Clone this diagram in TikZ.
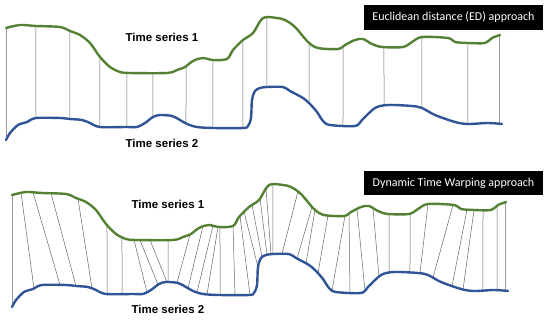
\documentclass[tikz,border=0pt]{standalone}
\usepackage{fontspec}
\newfontfamily\labelfont{Liberation Sans}
\newfontfamily\boxfont{Carlito}
\usetikzlibrary{intersections}

\definecolor{tsgreen}{RGB}{84,130,53}
\definecolor{tsblue}{RGB}{47,85,151}

% the two series, in pixel units of the upper panel
\newcommand{\seriesone}{plot[smooth, tension=.5] coordinates {(6,28) (20,25) (36,26) (60,27) (70,31) (80,35) (90,43) (100,57) (110,67) (120,72) (130,73) (167,73) (177,70) (185,67) (190,63) (195,60) (203,58) (213,60) (227,59) (233,50) (243,40) (253,33) (263,18) (277,18) (285,20) (295,27) (308,42) (318,48) (338,49) (345,45) (355,40) (363,39) (372,44) (382,47) (403,47) (412,42) (422,37) (448,38) (455,42) (468,43) (485,43) (492,38) (500,35)}}
\newcommand{\seriestwo}{plot[smooth, tension=.5] coordinates {(6,140) (10,133) (18,125) (27,122) (36,118) (60,118) (70,119) (82,120) (90,123) (100,127) (127,127) (137,127) (145,123) (153,117) (160,115) (172,116) (180,120) (187,124) (197,127) (213,128) (243,128) (248,126) (251,118) (252,100) (255,91) (260,88) (267,87) (283,87) (290,91) (303,98) (310,104) (317,112) (323,121) (330,125) (355,126) (362,120) (375,108) (388,105) (412,106) (422,108) (435,115) (455,122) (468,124) (488,123) (502,124)}}

\begin{document}
\begin{tikzpicture}[x=1pt, y=-1pt]
	\tikzstyle {greenseries} = [draw=tsgreen, line width=2.4pt, line cap=round, line join=round];
	\tikzstyle {blueseries} = [draw=tsblue, line width=2.4pt, line cap=round, line join=round];
	\tikzstyle {link} = [draw=black!60, line width=.5pt];
	\tikzstyle {seriesname} = [font=\labelfont\bfseries\fontsize{11.5}{13}\selectfont];
	\tikzstyle {approach} = [fill=black, text=white, minimum width=179pt, minimum height=25pt, inner sep=0pt, font=\boxfont\fontsize{12}{14}\selectfont];
	\useasboundingbox (0,0) rectangle (550,321);

	% Euclidean distance
	\begin{scope}
		\path[name path=ts1] \seriesone;
		\path[name path=ts2] \seriestwo;
		\foreach \upx/\downx in {6.3/6.3, 36/36, 70/70, 100/100, 127/127, 153/153, 186/186, 213/213, 243/243, 267/267, 309/309, 343/343, 384/384, 422/422, 468/468, 499.5/499.5} {
				\path[name path=upcut] (\upx,0) -- (\upx,160);
				\path[name path=downcut] (\downx,0) -- (\downx,160);
				\path[name intersections={of=ts1 and upcut, by=up}];
				\path[name intersections={of=ts2 and downcut, by=down}];
				\draw[link] (up) -- (down);
			}
		\draw[greenseries] \seriesone;
		\draw[blueseries] \seriestwo;
		\node[seriesname] (ed1) at (162,37) {Time series 1};
		\node[seriesname] (ed2) at (162,143) {Time series 2};
	\end{scope}
	\node[approach] (edbox) at (453.5,17.5) {Euclidean distance (ED) approach};

	% dynamic time warping
	\begin{scope}[shift={(6,167)}]
		\path[name path=ts1] \seriesone;
		\path[name path=ts2] \seriestwo;
		\foreach \upx/\downx in {6.3/6.3, 15/28, 27/54, 45/70, 72/86, 101/101, 116/116, 128/141, 134/152, 144/161, 162/162, 184/171, 197/182, 207/191, 212/201, 214/214, 227/229, 234/244, 238/252, 246/256, 254/261, 260/265, 267/267, 292/276, 306/291, 309/300, 322/312, 339/326, 343/344, 351/359, 367/373, 383/383, 404/404, 422/414, 447/427, 461/446, 468/457, 477/477, 491/491, 499.5/499.5} {
				\path[name path=upcut] (\upx,0) -- (\upx,160);
				\path[name path=downcut] (\downx,0) -- (\downx,160);
				\path[name intersections={of=ts1 and upcut, by=up}];
				\path[name intersections={of=ts2 and downcut, by=down}];
				\draw[link] (up) -- (down);
			}
		\draw[greenseries] \seriesone;
		\draw[blueseries] \seriestwo;
		\node[seriesname] (dtw1) at (162,37) {Time series 1};
		\node[seriesname] (dtw2) at (162,142) {Time series 2};
	\end{scope}
	\node[approach, minimum height=24pt] (dtwbox) at (453.5,183) {Dynamic Time Warping approach};
\end{tikzpicture}
\end{document}
